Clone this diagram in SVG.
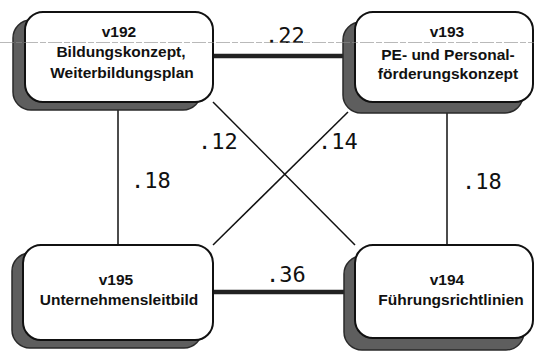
<svg xmlns="http://www.w3.org/2000/svg" width="534" height="352" viewBox="0 0 534 352">
  <style>
    .shadow { fill: #5e5e5e; stroke: #2a2a2a; stroke-width: 1.5; }
    .box { fill: #ffffff; stroke: #111111; stroke-width: 2; }
    .title { font-family: "Liberation Sans", Arial, sans-serif; font-weight: bold; font-size: 15.5px; fill: #111111; text-anchor: middle; }
    .coef { font-family: "DejaVu Sans Mono", "Liberation Mono", monospace; font-size: 22px; fill: #111111; }
    .thin { stroke: #111111; stroke-width: 1.5; fill: none; }
    .thick { stroke: #222222; stroke-width: 4.5; fill: none; }
  </style>

  <!-- connectors -->
  <g id="connectors">
    <line class="thick" x1="213" y1="56" x2="343" y2="56"/>
    <line class="thick" x1="213" y1="292" x2="344" y2="292"/>
    <line class="thin" x1="118" y1="110" x2="118" y2="245"/>
    <line class="thin" x1="447" y1="112" x2="447" y2="245"/>
    <line class="thin" x1="213" y1="102" x2="355" y2="245"/>
    <line class="thin" x1="348" y1="112" x2="213" y2="245"/>
    <text class="coef" x="265" y="43">.22</text>
    <text class="coef" x="266" y="282">.36</text>
    <text class="coef" x="131" y="188">.18</text>
    <text class="coef" x="462" y="189">.18</text>
    <text class="coef" x="198" y="149">.12</text>
    <text class="coef" x="318" y="149">.14</text>
  </g>

  <!-- v192 -->
  <g id="v192">
    <rect class="shadow" x="13" y="20" width="188" height="90" rx="18"/>
    <rect class="box" x="25" y="12" width="188" height="90" rx="18"/>
    <text class="title" x="119" y="37">v192</text>
    <text class="title" x="121" y="57">Bildungskonzept,</text>
    <text class="title" x="122" y="78">Weiterbildungsplan</text>
  </g>

  <!-- v193 -->
  <g id="v193">
    <rect class="shadow" x="343" y="22" width="180" height="91" rx="18"/>
    <rect class="box" x="355" y="12" width="178" height="90" rx="18"/>
    <text class="title" x="447" y="37">v193</text>
    <text class="title" x="448" y="60">PE- und Personal-</text>
    <text class="title" x="448" y="79">förderungskonzept</text>
  </g>

  <!-- v195 -->
  <g id="v195">
    <rect class="shadow" x="12" y="253" width="190" height="95" rx="18"/>
    <rect class="box" x="23" y="245" width="190" height="95" rx="18"/>
    <text class="title" x="116" y="285">v195</text>
    <text class="title" x="119" y="305">Unternehmensleitbild</text>
  </g>

  <!-- v194 -->
  <g id="v194">
    <rect class="shadow" x="344" y="256" width="180" height="94" rx="18"/>
    <rect class="box" x="355" y="245" width="178" height="93" rx="18"/>
    <text class="title" x="447" y="285">v194</text>
    <text class="title" x="451" y="305">Führungsrichtlinien</text>
  </g>

  <!-- faint rule running across the top, over everything -->
  <line x1="0" y1="42.5" x2="534" y2="42.5" stroke="#8c8c8c" stroke-width="1" stroke-dasharray="14 2 6 2" opacity="0.6"/>
</svg>
